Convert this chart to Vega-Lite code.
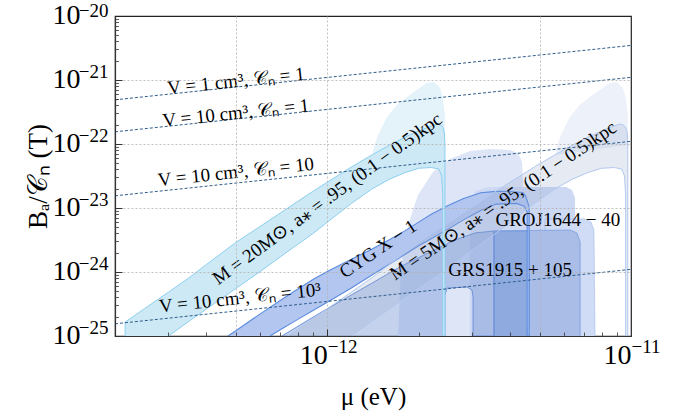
{
"$schema": "https://vega.github.io/schema/vega-lite/v6.json",
"width": 516, "height": 320,
"autosize": {"type": "none"},
"padding": {"left": 115, "top": 16, "right": 55, "bottom": 80},
"background": "white",
"config": {"view": {"stroke": "#222", "strokeWidth": 1.2}, "font": "Liberation Serif, serif"},
"resolve": {"axis": {"x": "independent", "y": "independent"}},
"datasets": {
"regions": [
{"r":"cyanCloud","i":0,"x":1.414e-12,"y":6.73e-23},{"r":"cyanCloud","i":1,"x":1.414e-12,"y":8.06e-23},{"r":"cyanCloud","i":2,"x":1.469e-12,"y":1.38e-22},{"r":"cyanCloud","i":3,"x":1.572e-12,"y":2.64e-22},{"r":"cyanCloud","i":4,"x":1.696e-12,"y":4.07e-22},{"r":"cyanCloud","i":5,"x":1.83e-12,"y":5.42e-22},{"r":"cyanCloud","i":6,"x":1.989e-12,"y":7.23e-22},{"r":"cyanCloud","i":7,"x":2.13e-12,"y":8.98e-22},{"r":"cyanCloud","i":8,"x":2.245e-12,"y":9.3e-22},{"r":"cyanCloud","i":9,"x":2.35e-12,"y":7.5e-22},{"r":"cyanCloud","i":10,"x":2.4e-12,"y":5.42e-22},{"r":"cyanCloud","i":11,"x":2.44e-12,"y":2.84e-22},{"r":"cyanCloud","i":12,"x":2.44e-12,"y":9.65e-23},
{"r":"rightCloud","i":0,"x":5.66e-12,"y":6.73e-23},{"r":"rightCloud","i":1,"x":5.66e-12,"y":8.06e-23},{"r":"rightCloud","i":2,"x":5.88e-12,"y":1.38e-22},{"r":"rightCloud","i":3,"x":6.29e-12,"y":2.64e-22},{"r":"rightCloud","i":4,"x":6.78e-12,"y":4.07e-22},{"r":"rightCloud","i":5,"x":7.32e-12,"y":5.42e-22},{"r":"rightCloud","i":6,"x":7.96e-12,"y":7.23e-22},{"r":"rightCloud","i":7,"x":8.52e-12,"y":8.98e-22},{"r":"rightCloud","i":8,"x":8.98e-12,"y":9.3e-22},{"r":"rightCloud","i":9,"x":9.4e-12,"y":7.5e-22},{"r":"rightCloud","i":10,"x":9.6e-12,"y":5.42e-22},{"r":"rightCloud","i":11,"x":9.76e-12,"y":2.84e-22},{"r":"rightCloud","i":12,"x":9.76e-12,"y":9.65e-23},
{"r":"lavBlob","i":0,"x":1.71e-12,"y":1e-25},{"r":"lavBlob","i":1,"x":1.748e-12,"y":1.07e-24},{"r":"lavBlob","i":2,"x":1.844e-12,"y":5.42e-24},{"r":"lavBlob","i":3,"x":1.989e-12,"y":1.6e-23},{"r":"lavBlob","i":4,"x":2.229e-12,"y":3.65e-23},{"r":"lavBlob","i":5,"x":2.535e-12,"y":5.83e-23},{"r":"lavBlob","i":6,"x":2.95e-12,"y":7.77e-23},{"r":"lavBlob","i":7,"x":3.433e-12,"y":8.35e-23},{"r":"lavBlob","i":8,"x":3.996e-12,"y":8.06e-23},{"r":"lavBlob","i":9,"x":4.245e-12,"y":7.23e-23},{"r":"lavBlob","i":10,"x":4.376e-12,"y":5.23e-23},{"r":"lavBlob","i":11,"x":4.41e-12,"y":2.74e-23},{"r":"lavBlob","i":12,"x":4.44e-12,"y":1e-25},
{"r":"regA","i":0,"x":2.95e-12,"y":1e-25},{"r":"regA","i":1,"x":2.95e-12,"y":1.33e-23},{"r":"regA","i":2,"x":3.087e-12,"y":1.84e-23},{"r":"regA","i":3,"x":3.382e-12,"y":2.13e-23},{"r":"regA","i":4,"x":6.11e-12,"y":2.13e-23},{"r":"regA","i":5,"x":6.39e-12,"y":1.91e-23},{"r":"regA","i":6,"x":6.54e-12,"y":1.43e-23},{"r":"regA","i":7,"x":6.59e-12,"y":1e-25},
{"r":"regB","i":0,"x":5.21e-12,"y":1e-25},{"r":"regB","i":1,"x":5.21e-12,"y":6.73e-24},{"r":"regB","i":2,"x":7.06e-12,"y":6.73e-24},{"r":"regB","i":3,"x":7.38e-12,"y":6.04e-24},{"r":"regB","i":4,"x":7.55e-12,"y":4.53e-24},{"r":"regB","i":5,"x":7.61e-12,"y":1e-25},
{"r":"groj","i":0,"x":3.54e-12,"y":1e-25},{"r":"groj","i":1,"x":3.54e-12,"y":4.37e-24},{"r":"groj","i":2,"x":6.3e-12,"y":4.53e-24},{"r":"groj","i":3,"x":6.64e-12,"y":4.07e-24},{"r":"groj","i":4,"x":6.8e-12,"y":2.94e-24},{"r":"groj","i":5,"x":6.8e-12,"y":1e-25},
{"r":"dark","i":0,"x":3.54e-12,"y":1e-25},{"r":"dark","i":1,"x":3.54e-12,"y":4.37e-24},{"r":"dark","i":2,"x":4.62e-12,"y":4.37e-24},{"r":"dark","i":3,"x":4.62e-12,"y":1e-25},
{"r":"cyg","i":0,"x":4.71e-13,"y":1e-25},{"r":"cyg","i":1,"x":5e-13,"y":1.21e-25},{"r":"cyg","i":2,"x":6e-13,"y":2.2e-25},{"r":"cyg","i":3,"x":7e-13,"y":3.59e-25},{"r":"cyg","i":4,"x":8e-13,"y":5.42e-25},{"r":"cyg","i":5,"x":9e-13,"y":7.72e-25},{"r":"cyg","i":6,"x":1e-12,"y":1.02e-24},{"r":"cyg","i":7,"x":1.2e-12,"y":1.58e-24},{"r":"cyg","i":8,"x":1.4e-12,"y":2.27e-24},{"r":"cyg","i":9,"x":1.6e-12,"y":3.2e-24},{"r":"cyg","i":10,"x":1.8e-12,"y":4.39e-24},{"r":"cyg","i":11,"x":2e-12,"y":6.02e-24},{"r":"cyg","i":12,"x":2.2e-12,"y":7.97e-24},{"r":"cyg","i":13,"x":2.5e-12,"y":1.09e-23},{"r":"cyg","i":14,"x":2.8e-12,"y":1.39e-23},{"r":"cyg","i":15,"x":3.2e-12,"y":1.73e-23},{"r":"cyg","i":16,"x":3.6e-12,"y":1.82e-23},{"r":"cyg","i":17,"x":4e-12,"y":1.81e-23},{"r":"cyg","i":18,"x":4.4e-12,"y":1.75e-23},{"r":"cyg","i":19,"x":4.5e-12,"y":1.54e-23},{"r":"cyg","i":20,"x":4.6e-12,"y":1.11e-23},{"r":"cyg","i":21,"x":4.62e-12,"y":9.3e-24},{"r":"cyg","i":22,"x":4.62e-12,"y":1e-25},{"r":"cyg","i":23,"x":4.55e-12,"y":1e-25},{"r":"cyg","i":24,"x":4.55e-12,"y":8.66e-24},{"r":"cyg","i":25,"x":4.45e-12,"y":1.07e-23},{"r":"cyg","i":26,"x":4.2e-12,"y":1.18e-23},{"r":"cyg","i":27,"x":3.6e-12,"y":1.15e-23},{"r":"cyg","i":28,"x":3.2e-12,"y":9.17e-24},{"r":"cyg","i":29,"x":2.8e-12,"y":6.47e-24},{"r":"cyg","i":30,"x":2.5e-12,"y":4.68e-24},{"r":"cyg","i":31,"x":2.2e-12,"y":3.32e-24},{"r":"cyg","i":32,"x":2e-12,"y":2.57e-24},{"r":"cyg","i":33,"x":1.8e-12,"y":1.88e-24},{"r":"cyg","i":34,"x":1.6e-12,"y":1.32e-24},{"r":"cyg","i":35,"x":1.4e-12,"y":8.91e-25},{"r":"cyg","i":36,"x":1.2e-12,"y":5.62e-25},{"r":"cyg","i":37,"x":1e-12,"y":3.37e-25},{"r":"cyg","i":38,"x":9e-13,"y":2.52e-25},{"r":"cyg","i":39,"x":8e-13,"y":1.82e-25},{"r":"cyg","i":40,"x":7e-13,"y":1.25e-25},{"r":"cyg","i":41,"x":6.48e-13,"y":1e-25},
{"r":"grs","i":0,"x":7.09e-13,"y":1e-25},{"r":"grs","i":1,"x":9.46e-13,"y":2.29e-25},{"r":"grs","i":2,"x":1.281e-12,"y":5.23e-25},{"r":"grs","i":3,"x":1.735e-12,"y":1.2e-24},{"r":"grs","i":4,"x":2.179e-12,"y":2.05e-24},{"r":"grs","i":5,"x":2.634e-12,"y":3.16e-24},{"r":"grs","i":6,"x":3.064e-12,"y":4.07e-24},{"r":"grs","i":7,"x":3.54e-12,"y":4.37e-24},{"r":"grs","i":8,"x":3.54e-12,"y":1e-25},{"r":"grs","i":9,"x":3.02e-12,"y":1e-25},{"r":"grs","i":10,"x":3.02e-12,"y":4.07e-25},{"r":"grs","i":11,"x":2.995e-12,"y":5.23e-25},{"r":"grs","i":12,"x":2.883e-12,"y":5.83e-25},{"r":"grs","i":13,"x":2.48e-12,"y":5.62e-25},{"r":"grs","i":14,"x":2.44e-12,"y":4.37e-25},{"r":"grs","i":15,"x":2.44e-12,"y":1e-25},
{"r":"m5","i":0,"x":7.4e-13,"y":1e-25},{"r":"m5","i":1,"x":8.64e-13,"y":1.65e-25},{"r":"m5","i":2,"x":1e-12,"y":2.67e-25},{"r":"m5","i":3,"x":1.2e-12,"y":4.84e-25},{"r":"m5","i":4,"x":1.4e-12,"y":8.09e-25},{"r":"m5","i":5,"x":1.6e-12,"y":1.31e-24},{"r":"m5","i":6,"x":2e-12,"y":2.9e-24},{"r":"m5","i":7,"x":2.4e-12,"y":5.12e-24},{"r":"m5","i":8,"x":2.8e-12,"y":8.32e-24},{"r":"m5","i":9,"x":3.2e-12,"y":1.27e-23},{"r":"m5","i":10,"x":3.6e-12,"y":1.84e-23},{"r":"m5","i":11,"x":4e-12,"y":2.53e-23},{"r":"m5","i":12,"x":4.8e-12,"y":4.36e-23},{"r":"m5","i":13,"x":5.6e-12,"y":6.71e-23},{"r":"m5","i":14,"x":6.4e-12,"y":9.54e-23},{"r":"m5","i":15,"x":7.2e-12,"y":1.27e-22},{"r":"m5","i":16,"x":8e-12,"y":1.6e-22},{"r":"m5","i":17,"x":8.8e-12,"y":1.91e-22},{"r":"m5","i":18,"x":9.2e-12,"y":2.05e-22},{"r":"m5","i":19,"x":9.44e-12,"y":1.98e-22},{"r":"m5","i":20,"x":9.6e-12,"y":1.84e-22},{"r":"m5","i":21,"x":9.72e-12,"y":1.49e-22},{"r":"m5","i":22,"x":9.76e-12,"y":9.65e-23},{"r":"m5","i":23,"x":9.76e-12,"y":1e-25},{"r":"m5","i":24,"x":9.6e-12,"y":1e-25},{"r":"m5","i":25,"x":9.6e-12,"y":1.6e-23},{"r":"m5","i":26,"x":9.52e-12,"y":3.16e-23},{"r":"m5","i":27,"x":9.32e-12,"y":4.07e-23},{"r":"m5","i":28,"x":8.8e-12,"y":4.29e-23},{"r":"m5","i":29,"x":8e-12,"y":4.17e-23},{"r":"m5","i":30,"x":7.2e-12,"y":3.57e-23},{"r":"m5","i":31,"x":6.4e-12,"y":2.81e-23},{"r":"m5","i":32,"x":5.6e-12,"y":1.97e-23},{"r":"m5","i":33,"x":4.8e-12,"y":1.18e-23},{"r":"m5","i":34,"x":4e-12,"y":6e-24},{"r":"m5","i":35,"x":3.6e-12,"y":4.04e-24},{"r":"m5","i":36,"x":3.2e-12,"y":2.71e-24},{"r":"m5","i":37,"x":2.8e-12,"y":1.72e-24},{"r":"m5","i":38,"x":2.4e-12,"y":1.01e-24},{"r":"m5","i":39,"x":2e-12,"y":5.54e-25},{"r":"m5","i":40,"x":1.6e-12,"y":2.64e-25},{"r":"m5","i":41,"x":1.4e-12,"y":1.69e-25},{"r":"m5","i":42,"x":1.2e-12,"y":1e-25},
{"r":"cyan","i":0,"x":2.16e-13,"y":1e-25},{"r":"cyan","i":1,"x":2.16e-13,"y":1.65e-25},{"r":"cyan","i":2,"x":2.5e-13,"y":2.67e-25},{"r":"cyan","i":3,"x":3e-13,"y":4.84e-25},{"r":"cyan","i":4,"x":3.5e-13,"y":8.09e-25},{"r":"cyan","i":5,"x":4e-13,"y":1.31e-24},{"r":"cyan","i":6,"x":5e-13,"y":2.9e-24},{"r":"cyan","i":7,"x":6e-13,"y":5.12e-24},{"r":"cyan","i":8,"x":7e-13,"y":8.32e-24},{"r":"cyan","i":9,"x":8e-13,"y":1.27e-23},{"r":"cyan","i":10,"x":9e-13,"y":1.84e-23},{"r":"cyan","i":11,"x":1e-12,"y":2.53e-23},{"r":"cyan","i":12,"x":1.2e-12,"y":4.36e-23},{"r":"cyan","i":13,"x":1.4e-12,"y":6.71e-23},{"r":"cyan","i":14,"x":1.6e-12,"y":9.54e-23},{"r":"cyan","i":15,"x":1.8e-12,"y":1.27e-22},{"r":"cyan","i":16,"x":2e-12,"y":1.6e-22},{"r":"cyan","i":17,"x":2.2e-12,"y":1.91e-22},{"r":"cyan","i":18,"x":2.3e-12,"y":2.05e-22},{"r":"cyan","i":19,"x":2.36e-12,"y":1.98e-22},{"r":"cyan","i":20,"x":2.4e-12,"y":1.84e-22},{"r":"cyan","i":21,"x":2.43e-12,"y":1.49e-22},{"r":"cyan","i":22,"x":2.44e-12,"y":9.65e-23},{"r":"cyan","i":23,"x":2.44e-12,"y":1e-25},{"r":"cyan","i":24,"x":2.4e-12,"y":1e-25},{"r":"cyan","i":25,"x":2.4e-12,"y":1.6e-23},{"r":"cyan","i":26,"x":2.38e-12,"y":3.16e-23},{"r":"cyan","i":27,"x":2.33e-12,"y":4.07e-23},{"r":"cyan","i":28,"x":2.2e-12,"y":4.29e-23},{"r":"cyan","i":29,"x":2e-12,"y":4.17e-23},{"r":"cyan","i":30,"x":1.8e-12,"y":3.57e-23},{"r":"cyan","i":31,"x":1.6e-12,"y":2.81e-23},{"r":"cyan","i":32,"x":1.4e-12,"y":1.97e-23},{"r":"cyan","i":33,"x":1.2e-12,"y":1.18e-23},{"r":"cyan","i":34,"x":1e-12,"y":6e-24},{"r":"cyan","i":35,"x":9e-13,"y":4.04e-24},{"r":"cyan","i":36,"x":8e-13,"y":2.71e-24},{"r":"cyan","i":37,"x":7e-13,"y":1.72e-24},{"r":"cyan","i":38,"x":6e-13,"y":1.01e-24},{"r":"cyan","i":39,"x":5e-13,"y":5.54e-25},{"r":"cyan","i":40,"x":4e-13,"y":2.64e-25},{"r":"cyan","i":41,"x":3.5e-13,"y":1.69e-25},{"r":"cyan","i":42,"x":3e-13,"y":1e-25}
],
"lines": [
{"l":"a","x":2e-13,"y":4.9e-22},{"l":"a","x":1e-11,"y":3.47e-21},
{"l":"b","x":2e-13,"y":1.55e-22},{"l":"b","x":1e-11,"y":1.1e-21},
{"l":"c","x":2e-13,"y":1.55e-23},{"l":"c","x":1e-11,"y":1.1e-22},
{"l":"d","x":2e-13,"y":1.55e-25},{"l":"d","x":1e-11,"y":1.1e-24}
],
"labels": [
{"g":"line","t":"V = 1 cm³, 𝒞ₙ = 1","x":5e-13,"y":9.65e-22},
{"g":"line","t":"V = 10 cm³, 𝒞ₙ = 1","x":5e-13,"y":3.05e-22},
{"g":"line","t":"V = 10 cm³, 𝒞ₙ = 10","x":5e-13,"y":3.65e-23},
{"g":"line","t":"V = 10 cm³, 𝒞ₙ = 10³","x":5.16e-13,"y":3.92e-25},
{"g":"m20","t":"M = 20M⊙, a⁎ = .95, (0.1 − 0.5)kpc","x":1.0e-12,"y":1.4e-23},
{"g":"m5","t":"M = 5M⊙, a⁎ = .95, (0.1 − 0.5)kpc","x":3.79e-12,"y":1.3e-23},
{"g":"m5","t":"CYG X − 1","x":1.47e-12,"y":2.29e-24},
{"g":"flat","t":"GROJ1644 − 40","x":5.74e-12,"y":6.49e-24},
{"g":"flat","t":"GRS1915 + 105","x":4.0e-12,"y":1.07e-24}
]
},
"layer": [
{"data":{"name":"regions"},"transform":[{"filter":"datum.r === 'cyanCloud'"}],
 "mark":{"type":"line","fill":"#e4f3fa","strokeWidth":0},
 "encoding":{
  "x":{"field":"x","type":"quantitative","scale":{"type":"log","domain":[2e-13,1e-11],"nice":false},
   "axis":{"orient":"bottom","values":[1e-12,1e-11],"ticks":false,"grid":false,"domain":true,"domainColor":"#333","domainWidth":1.2,"zindex":1,
    "labelExpr":"'10'","labelAlign":"right","labelBaseline":"top","labelFont":"Liberation Serif, serif","labelFontSize":28,"labelColor":"#000","labelPadding":5,"labelFlush":false,"labelOverlap":false,
    "title":"μ (eV)","titleFont":"Liberation Serif, serif","titleFontSize":25,"titleFontWeight":"normal","titleColor":"#000","titleY":60,"titleBaseline":"middle"}},
  "y":{"field":"y","type":"quantitative","scale":{"type":"log","domain":[1e-25,1e-20],"nice":false},
   "axis":{"orient":"left","values":[1e-25,1e-24,1e-23,1e-22,1e-21,1e-20],"ticks":false,"grid":false,"domain":true,"domainColor":"#333","domainWidth":1.2,"zindex":1,
    "labelExpr":"'10'","labelBaseline":"middle","labelOffset":-1,
    "labelFont":"Liberation Serif, serif","labelFontSize":28,"labelColor":"#000","labelPadding":35,"labelFlush":false,"labelOverlap":false,
    "title":"Bₐ/𝒞ₙ (T)","titleFont":"Liberation Serif, serif","titleFontSize":27,"titleFontWeight":"normal","titleColor":"#000","titleX":-77,"titleBaseline":"middle"}},
  "order":{"field":"i","type":"quantitative"}}},
{"data":{"name":"regions"},"transform":[{"filter":"datum.r === 'rightCloud'"}],
 "mark":{"type":"line","fill":"#edf1fa","strokeWidth":0},
 "encoding":{
  "x":{"field":"x","type":"quantitative","scale":{"type":"log","domain":[2e-13,1e-11],"nice":false},
   "axis":{"orient":"bottom","values":[1e-12],"ticks":true,"tickSize":-7,"tickColor":"#333","tickWidth":1,"labels":false,"grid":false,"domain":false,"title":null,"zindex":1}},
  "y":{"field":"y","type":"quantitative","scale":{"type":"log","domain":[1e-25,1e-20],"nice":false},
   "axis":{"orient":"left","values":[1e-24,1e-23,1e-22,1e-21],"ticks":true,"tickSize":-7,"tickColor":"#333","tickWidth":1,"labels":false,"grid":false,"domain":false,"title":null,"zindex":1}},
  "order":{"field":"i","type":"quantitative"}}},
{"data":{"name":"regions"},"transform":[{"filter":"datum.r === 'lavBlob'"}],
 "mark":{"type":"line","fill":"#dde5f7","strokeWidth":0},
 "encoding":{
  "x":{"field":"x","type":"quantitative","scale":{"type":"log","domain":[2e-13,1e-11],"nice":false},
   "axis":{"orient":"bottom","values":[3e-13,4e-13,5e-13,6e-13,7e-13,8e-13,9e-13,2e-12,3e-12,4e-12,5e-12,6e-12,7e-12,8e-12,9e-12],"ticks":true,"tickSize":-4,"tickColor":"#333","tickWidth":0.8,"labels":false,"grid":false,"domain":false,"title":null,"zindex":1}},
  "y":{"field":"y","type":"quantitative","scale":{"type":"log","domain":[1e-25,1e-20],"nice":false},
   "axis":{"orient":"left","values":[2e-25,3e-25,4e-25,5e-25,6e-25,7e-25,8e-25,9e-25,2e-24,3e-24,4e-24,5e-24,6e-24,7e-24,8e-24,9e-24,2e-23,3e-23,4e-23,5e-23,6e-23,7e-23,8e-23,9e-23,2e-22,3e-22,4e-22,5e-22,6e-22,7e-22,8e-22,9e-22,2e-21,3e-21,4e-21,5e-21,6e-21,7e-21,8e-21,9e-21],"ticks":true,"tickSize":-3.5,"tickColor":"#333","tickWidth":0.8,"labels":false,"grid":false,"domain":false,"title":null,"zindex":1}},
  "order":{"field":"i","type":"quantitative"}}},
{"data":{"name":"regions"},"transform":[{"filter":"datum.r === 'regA'"}],
 "mark":{"type":"line","fill":"#cdd8f3","strokeWidth":0},
 "encoding":{
  "x":{"field":"x","type":"quantitative","scale":{"type":"log","domain":[2e-13,1e-11],"nice":false},
   "axis":{"orient":"bottom","values":[5e-13,1e-12,5e-12],"ticks":false,"labels":false,"domain":false,"title":null,"grid":true,"gridColor":"#b0b0b0","gridDash":[2,2],"gridWidth":0.8,"zindex":1}},
  "y":{"field":"y","type":"quantitative","scale":{"type":"log","domain":[1e-25,1e-20],"nice":false},
   "axis":{"orient":"left","values":[1e-24,1e-23,1e-22,1e-21],"ticks":false,"labels":false,"domain":false,"title":null,"grid":true,"gridColor":"#b0b0b0","gridDash":[2,2],"gridWidth":0.8,"zindex":1}},
  "order":{"field":"i","type":"quantitative"}}},
{"data":{"name":"regions"},"transform":[{"filter":"datum.r === 'regB'"}],
 "mark":{"type":"line","fill":"#d0dcf5","stroke":"#9fb9ea","strokeWidth":0.6},
 "encoding":{
  "x":{"field":"x","type":"quantitative","scale":{"type":"log","domain":[2e-13,1e-11],"nice":false},
   "axis":{"orient":"bottom","values":[1e-12,1e-11],"ticks":false,"grid":false,"domain":false,"title":null,"zindex":1,
    "labelExpr":"round(log(datum.value)/LN10) == -12 ? '−12' : '−11'","labelAlign":"left","labelBaseline":"top","labelFont":"Liberation Serif, serif","labelFontSize":19,"labelColor":"#000","labelPadding":1,"labelFlush":false,"labelOverlap":false}},
  "y":{"field":"y","type":"quantitative","scale":{"type":"log","domain":[1e-25,1e-20],"nice":false},
   "axis":{"orient":"left","values":[1e-25,1e-24,1e-23,1e-22,1e-21,1e-20],"ticks":false,"grid":false,"domain":false,"title":null,"zindex":1,
    "labelExpr":"'−' + (-round(log(datum.value)/LN10))","labelAlign":"right","labelBaseline":"middle",
    "labelOffset":{"condition":{"test":"datum.value > 5e-21","value":-6},"value":-9},
    "labelFont":"Liberation Serif, serif","labelFontSize":19,"labelColor":"#000","labelPadding":7,"labelFlush":false,"labelOverlap":false}},
  "order":{"field":"i","type":"quantitative"}}},
{"data":{"name":"regions"},"transform":[{"filter":"datum.r === 'groj'"}],
 "mark":{"type":"line","fill":"#a9bde7","stroke":"#7c9de0","strokeWidth":0.8},
 "encoding":{"x":{"field":"x","type":"quantitative","scale":{"type":"log","domain":[2e-13,1e-11],"nice":false},"axis":null},
  "y":{"field":"y","type":"quantitative","scale":{"type":"log","domain":[1e-25,1e-20],"nice":false},"axis":null},
  "order":{"field":"i","type":"quantitative"}}},
{"data":{"name":"regions"},"transform":[{"filter":"datum.r === 'dark'"}],
 "mark":{"type":"line","fill":"#8eaadf","stroke":"#6f93dc","strokeWidth":0.8},
 "encoding":{"x":{"field":"x","type":"quantitative","scale":{"type":"log","domain":[2e-13,1e-11],"nice":false},"axis":null},
  "y":{"field":"y","type":"quantitative","scale":{"type":"log","domain":[1e-25,1e-20],"nice":false},"axis":null},
  "order":{"field":"i","type":"quantitative"}}},
{"data":{"name":"regions"},"transform":[{"filter":"datum.r === 'cyg'"}],
 "mark":{"type":"line","fill":"#b3c6f0","stroke":"#5b8be0","strokeWidth":1.1},
 "encoding":{"x":{"field":"x","type":"quantitative","scale":{"type":"log","domain":[2e-13,1e-11],"nice":false},"axis":null},
  "y":{"field":"y","type":"quantitative","scale":{"type":"log","domain":[1e-25,1e-20],"nice":false},"axis":null},
  "order":{"field":"i","type":"quantitative"}}},
{"data":{"name":"regions"},"transform":[{"filter":"datum.r === 'grs'"}],
 "mark":{"type":"line","fill":"#7f9bd6","fillOpacity":0.45,"stroke":"#6f92d8","strokeWidth":1},
 "encoding":{"x":{"field":"x","type":"quantitative","scale":{"type":"log","domain":[2e-13,1e-11],"nice":false},"axis":null},
  "y":{"field":"y","type":"quantitative","scale":{"type":"log","domain":[1e-25,1e-20],"nice":false},"axis":null},
  "order":{"field":"i","type":"quantitative"}}},
{"data":{"name":"regions"},"transform":[{"filter":"datum.r === 'm5'"}],
 "mark":{"type":"line","fill":"#8fa3c9","fillOpacity":0.22,"stroke":"#b2c8ef","strokeWidth":1},
 "encoding":{"x":{"field":"x","type":"quantitative","scale":{"type":"log","domain":[2e-13,1e-11],"nice":false},"axis":null},
  "y":{"field":"y","type":"quantitative","scale":{"type":"log","domain":[1e-25,1e-20],"nice":false},"axis":null},
  "order":{"field":"i","type":"quantitative"}}},
{"data":{"name":"regions"},"transform":[{"filter":"datum.r === 'cyan'"}],
 "mark":{"type":"line","fill":"#cde9f6","stroke":"#8ccff0","strokeWidth":1},
 "encoding":{"x":{"field":"x","type":"quantitative","scale":{"type":"log","domain":[2e-13,1e-11],"nice":false},"axis":null},
  "y":{"field":"y","type":"quantitative","scale":{"type":"log","domain":[1e-25,1e-20],"nice":false},"axis":null},
  "order":{"field":"i","type":"quantitative"}}},
{"data":{"name":"lines"},
 "mark":{"type":"line","stroke":"#2f5d8a","strokeWidth":1,"strokeDash":[3,2]},
 "encoding":{"x":{"field":"x","type":"quantitative","scale":{"type":"log","domain":[2e-13,1e-11],"nice":false},"axis":null},
  "y":{"field":"y","type":"quantitative","scale":{"type":"log","domain":[1e-25,1e-20],"nice":false},"axis":null},
  "detail":{"field":"l","type":"nominal"}}},
{"data":{"name":"labels"},"transform":[{"filter":"datum.g === 'line'"}],
 "mark":{"type":"text","angle":354,"font":"Liberation Serif, serif","fontSize":19,"align":"center","baseline":"middle","fill":"#000"},
 "encoding":{"x":{"field":"x","type":"quantitative","scale":{"type":"log","domain":[2e-13,1e-11],"nice":false},"axis":null},
  "y":{"field":"y","type":"quantitative","scale":{"type":"log","domain":[1e-25,1e-20],"nice":false},"axis":null},
  "text":{"field":"t"}}},
{"data":{"name":"labels"},"transform":[{"filter":"datum.g === 'm20'"}],
 "mark":{"type":"text","angle":324,"font":"Liberation Serif, serif","fontSize":19,"align":"center","baseline":"middle","fill":"#000"},
 "encoding":{"x":{"field":"x","type":"quantitative","scale":{"type":"log","domain":[2e-13,1e-11],"nice":false},"axis":null},
  "y":{"field":"y","type":"quantitative","scale":{"type":"log","domain":[1e-25,1e-20],"nice":false},"axis":null},
  "text":{"field":"t"}}},
{"data":{"name":"labels"},"transform":[{"filter":"datum.g === 'm5'"}],
 "mark":{"type":"text","angle":326,"font":"Liberation Serif, serif","fontSize":19,"align":"center","baseline":"middle","fill":"#000"},
 "encoding":{"x":{"field":"x","type":"quantitative","scale":{"type":"log","domain":[2e-13,1e-11],"nice":false},"axis":null},
  "y":{"field":"y","type":"quantitative","scale":{"type":"log","domain":[1e-25,1e-20],"nice":false},"axis":null},
  "text":{"field":"t"}}},
{"data":{"name":"labels"},"transform":[{"filter":"datum.g === 'flat'"}],
 "mark":{"type":"text","angle":0,"font":"Liberation Serif, serif","fontSize":19,"align":"center","baseline":"middle","fill":"#000"},
 "encoding":{"x":{"field":"x","type":"quantitative","scale":{"type":"log","domain":[2e-13,1e-11],"nice":false},"axis":null},
  "y":{"field":"y","type":"quantitative","scale":{"type":"log","domain":[1e-25,1e-20],"nice":false},"axis":null},
  "text":{"field":"t"}}}
]
}
